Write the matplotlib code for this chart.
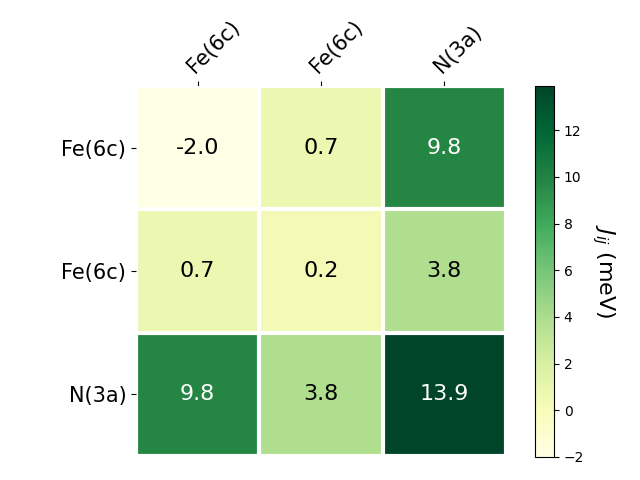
import numpy as np
import matplotlib
matplotlib.use("Agg")
import matplotlib.pyplot as plt

row_labels = ["Fe(6c)", "Fe(6c)", "N(3a)"]
col_labels = ["Fe(6c)", "Fe(6c)", "N(3a)"]
values = np.array([
    [-2.0, 0.7, 9.8],
    [0.7, 0.2, 3.8],
    [9.8, 3.8, 13.9],
])

fig = plt.figure(figsize=(6.4, 4.8), dpi=100)
ax = fig.add_axes([136/640, 24/480, 370/640, 370/480])
cax = fig.add_axes([535/640, 23/480, 19/640, 371/480])

im = ax.imshow(values, cmap="YlGn", vmin=values.min(), vmax=values.max())
cbar = fig.colorbar(im, cax=cax)
cbar.ax.set_ylabel("$J_{ij}$ (meV)", rotation=-90, va="bottom", fontsize=16)

ax.set_xticks(np.arange(len(col_labels)))
ax.set_yticks(np.arange(len(row_labels)))
ax.set_xticklabels(col_labels, fontsize=15)
ax.set_yticklabels(row_labels, fontsize=15)
ax.tick_params(top=True, bottom=False, labeltop=True, labelbottom=False)
plt.setp(ax.get_xticklabels(), rotation=45, ha="left", rotation_mode="anchor")

for s in ax.spines.values():
    s.set_visible(False)
ax.set_xticks(np.arange(values.shape[1] + 1) - .5, minor=True)
ax.set_yticks(np.arange(values.shape[0] + 1) - .5, minor=True)
ax.grid(which="minor", color="w", linestyle="-", linewidth=3)
ax.tick_params(which="minor", bottom=False, left=False, top=False)

thr = im.norm(values.max()) / 2.0 * 1.2
for i in range(values.shape[0]):
    for j in range(values.shape[1]):
        v = values[i, j]
        color = "white" if v > 7 else "black"
        ax.text(j, i, f"{v:.1f}", ha="center", va="center", color=color, fontsize=16)

fig.savefig("out.png", dpi=100)
